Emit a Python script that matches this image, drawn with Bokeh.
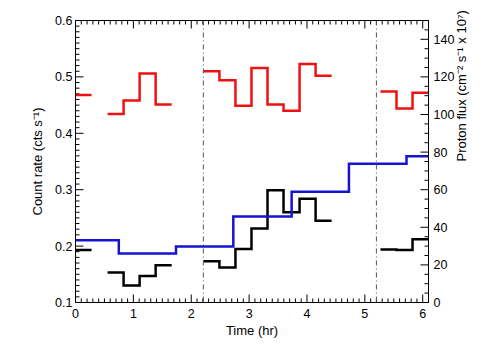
import math
from bokeh.plotting import figure
from bokeh.models import (Range1d, LinearAxis, SingleIntervalTicker, FixedTicker,
                          Span, CustomJSTickFormatter)
from bokeh.embed import file_html
from bokeh.resources import INLINE

NAN = float("nan")

# ---- data (time in hours) ----
blk1_edges = [0.0, 0.277, 0.554, 0.831, 1.108, 1.385, 1.662]
red_blk1 = [0.468, NAN, 0.434, 0.458, 0.506, 0.451]
black_blk1 = [0.193, NAN, 0.153, 0.130, 0.147, 0.166]

blk2_edges = [2.21, 2.487, 2.764, 3.041, 3.318, 3.595, 3.872, 4.149, 4.426]
red_blk2 = [0.510, 0.494, 0.449, 0.516, 0.451, 0.440, 0.523, 0.502]
black_blk2 = [0.173, 0.162, 0.195, 0.231, 0.299, 0.260, 0.284, 0.245]

blk3_edges = [5.27, 5.547, 5.824, 6.101]
red_blk3 = [0.474, 0.444, 0.472]
black_blk3 = [0.194, 0.193, 0.212]

flux_edges = [0.0, 0.748, 1.737, 2.727, 3.735, 4.725, 5.72, 6.1]
flux_vals = [33.1, 26.1, 29.8, 45.7, 58.9, 73.8, 77.8]

orbit_marks = [2.21, 5.20]

time_ticks = [0, 1, 2, 3, 4, 5, 6]
count_ticks = [0.1, 0.2, 0.3, 0.4, 0.5, 0.6]
flux_ticks = [0, 20, 40, 60, 80, 100, 120, 140]

FONT = "Liberation Sans"
X0, X1 = 0.0, 6.1
Y0, Y1 = 0.1, 0.6
F0, F1 = 0.0, 150.0
FRAME_W, FRAME_H = 353, 282
MAJ_LEN, MIN_LEN = 8, 4


def step_paths(blocks):
    xs, ys = [], []
    for edges, vals in blocks:
        cx, cy = [], []
        for i, v in enumerate(vals):
            if v is None or (isinstance(v, float) and math.isnan(v)):
                if cx:
                    xs.append(cx); ys.append(cy)
                cx, cy = [], []
                continue
            cx += [edges[i], edges[i + 1]]
            cy += [v, v]
        if cx:
            xs.append(cx); ys.append(cy)
    return xs, ys


p = figure(width=488, height=344, output_backend="svg", toolbar_location=None,
           x_range=Range1d(X0, X1), y_range=Range1d(Y0, Y1),
           min_border_left=75, min_border_right=60, min_border_top=20,
           min_border_bottom=42)
p.extra_y_ranges = {"flux": Range1d(F0, F1)}
p.xgrid.visible = False
p.ygrid.visible = False
p.outline_line_color = "black"
p.outline_line_width = 1


def style_axis(ax):
    ax.axis_line_color = "black"
    ax.major_tick_line_color = None
    ax.minor_tick_line_color = None
    ax.major_tick_in = 0
    ax.major_tick_out = 0
    ax.minor_tick_in = 0
    ax.minor_tick_out = 0
    ax.major_label_text_font = FONT
    ax.major_label_text_font_size = "12.5px"
    ax.major_label_text_color = "black"
    ax.axis_label_text_font = FONT
    ax.axis_label_text_font_size = "13px"
    ax.axis_label_text_font_style = "normal"
    ax.axis_label_text_color = "black"


xa = p.xaxis[0]
xa.ticker = FixedTicker(ticks=time_ticks)
xa.axis_label = "Time (hr)"
style_axis(xa)
xa.major_label_standoff = 6
xa.axis_label_standoff = 2

ya = p.yaxis[0]
ya.ticker = FixedTicker(ticks=count_ticks)
ya.axis_label = "Count rate (cts s\u207b\u00b9)"
style_axis(ya)
ya.major_label_standoff = 3
ya.axis_label_standoff = 7

ra = LinearAxis(y_range_name="flux", ticker=FixedTicker(ticks=flux_ticks),
                axis_label="Proton flux (cm\u207b\u00b2 s\u207b\u00b9 x 10\u2077)")
style_axis(ra)
ra.major_label_standoff = 5
ra.axis_label_standoff = 4
try:
    ra.axis_label_orientation = math.pi / 2
except Exception:
    pass
p.add_layout(ra, "right")

# ---- inward tick marks (IDL style) on all four sides ----
dy_count = (Y1 - Y0) / FRAME_H
dy_flux = (F1 - F0) / FRAME_H
dx_time = (X1 - X0) / FRAME_W

x_minor = [round(0.1 * i, 2) for i in range(62) if i % 10]
y_minor = [round(0.1 + 0.01 * i, 3) for i in range(51) if i % 10]
f_minor = [5 * i for i in range(31) if i % 4]

tx0, ty0, tx1, ty1 = [], [], [], []
for ticks, ln in ((time_ticks, MAJ_LEN), (x_minor, MIN_LEN)):
    for t in ticks:
        tx0 += [t, t]; tx1 += [t, t]
        ty0 += [Y0, Y1]; ty1 += [Y0 + ln * dy_count, Y1 - ln * dy_count]
for ticks, ln in ((count_ticks, MAJ_LEN), (y_minor, MIN_LEN)):
    for t in ticks:
        tx0.append(X0); tx1.append(X0 + ln * dx_time)
        ty0.append(t); ty1.append(t)
p.segment(tx0, ty0, tx1, ty1, line_color="black", line_width=1)

fx0, fy0, fx1, fy1 = [], [], [], []
for ticks, ln in ((flux_ticks, MAJ_LEN), (f_minor, MIN_LEN)):
    for t in ticks:
        fx0.append(X1); fx1.append(X1 - ln * dx_time)
        fy0.append(t); fy1.append(t)
p.segment(fx0, fy0, fx1, fy1, line_color="black", line_width=1, y_range_name="flux")

for xm in orbit_marks:
    p.add_layout(Span(location=xm, dimension="height", line_color="#555555",
                      line_width=1, line_dash="5 3 1 3"))

rx, ry = step_paths([(blk1_edges, red_blk1), (blk2_edges, red_blk2), (blk3_edges, red_blk3)])
p.multi_line(rx, ry, line_color="#ee1111", line_width=2.5, line_join="miter")

bx, by = step_paths([(blk1_edges, black_blk1), (blk2_edges, black_blk2), (blk3_edges, black_blk3)])
p.multi_line(bx, by, line_color="black", line_width=2.5, line_join="miter")

fx, fy = step_paths([(flux_edges, flux_vals)])
p.multi_line(fx, fy, line_color="#1414d2", line_width=2.5, line_join="miter",
             y_range_name="flux")

open("out.html", "w").write(file_html(p, INLINE))
